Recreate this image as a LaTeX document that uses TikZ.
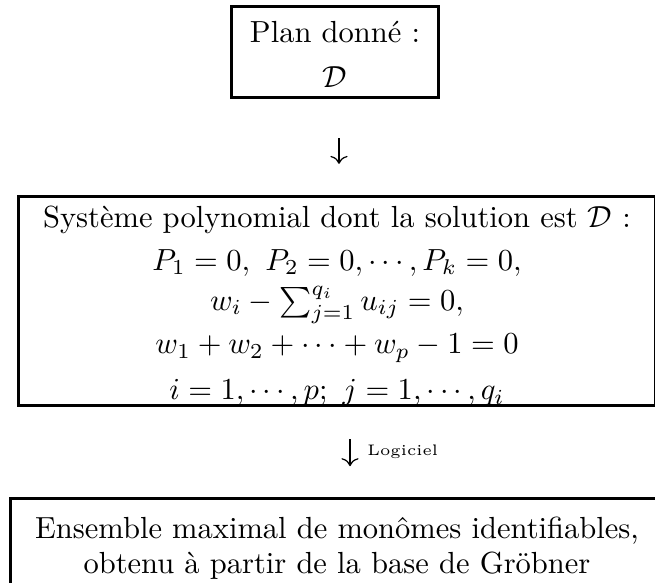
\documentclass[tikz,border=0pt]{standalone}
\usepackage{tikz}
\usetikzlibrary{arrows.meta, positioning}

\tikzset{
  boite/.style={draw, line width=1pt, align=center, inner sep=0pt,
                font=\fontsize{10}{13.2}\selectfont},
  fleche/.style={line width=0.4pt, -{Computer Modern Rightarrow[length=2.6pt,width=5.6pt]}}
}

\begin{document}
\begin{tikzpicture}[x=0.3276pt, y=-0.3276pt]
    \useasboundingbox (0,0) rectangle (655,583);
    \clip (0,0) rectangle (655,583);

    % les trois boites
    \node[boite, minimum width=67.8pt, minimum height=29.8pt] (plan) at (335,52) {
      \rule{0pt}{8.5pt}Plan donn\'e :\\[1.6pt]
      $\mathcal{D}$
    };
    \node[boite, minimum width=208.7pt, minimum height=67.8pt] (systeme) at (337,301) {
      \rule{0pt}{10.3pt}Syst\`eme polynomial dont la solution est $\mathcal{D}$ :\\[0.6pt]
      $P_1=0,\ P_2=0,\cdots,P_k=0,$\\
      $w_i-\sum_{j=1}^{q_i}u_{ij}=0,$\\[1pt]
      $w_1+w_2+\cdots+w_p-1=0$\\[1.8pt]
      $i=1,\cdots,p;\ j=1,\cdots,q_i$
    };
    \node[boite, minimum width=213.9pt, minimum height=30.6pt,
          font=\fontsize{10}{11}\selectfont] (ensemble) at (337,545.5) {
      \rule{0pt}{8.9pt}Ensemble maximal de mon\^omes identifiables,\\[0.7pt]
      obtenu \`a partir de la base de Gr\"obner
    };

    % les fleches
    \coordinate (axe1) at (339,0);
    \coordinate (axe2) at (350,0);
    \draw[fleche, shorten <=12.8pt, shorten >=10.2pt]
      (plan.south -| axe1) -- (systeme.north -| axe1);
    \draw[fleche, shorten <=10.5pt, shorten >=10.2pt]
      (systeme.south -| axe2) -- coordinate[pos=0.5] (milieu2) (ensemble.north -| axe2);
    \node[anchor=west, inner sep=0pt, font=\tiny] (logiciel) at ([xshift=5.5pt]milieu2) {Logiciel};
\end{tikzpicture}
\end{document}
